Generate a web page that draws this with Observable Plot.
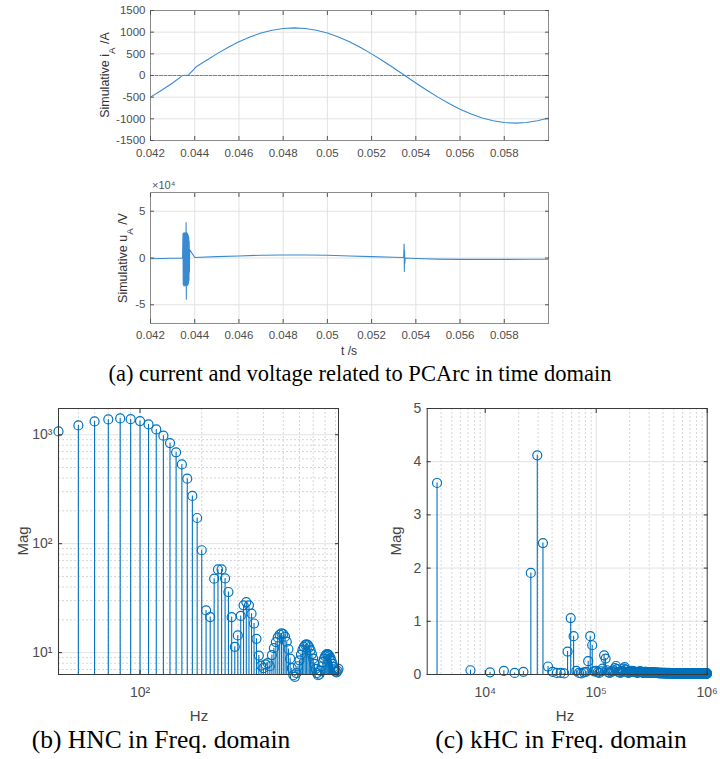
<!DOCTYPE html>
<html><head><meta charset="utf-8">
<script src="https://cdn.jsdelivr.net/npm/d3@7"></script>
<script src="https://cdn.jsdelivr.net/npm/@observablehq/plot@0.6"></script>
<style>
html,body{margin:0;padding:0;background:#fff;}
#wrap{position:relative;width:720px;height:759px;overflow:hidden;background:#fff;}
.panel{position:absolute;}
.cap{position:absolute;font-family:"Liberation Serif","Times New Roman",serif;color:#000;white-space:nowrap;transform:translateX(-50%);line-height:1;}
</style></head><body><div id="wrap"></div>
<script>
// ---------- data ----------
// (a) current
const tA = [0.0420,0.0425,0.0430,0.04340,0.04345,0.04372,0.04410,0.0445,0.0450,0.0455,0.0460,0.0465,0.0470,0.0475,0.0480,0.0485,0.0490,0.0495,0.0500,0.0505,0.0510,0.0515,0.0520,0.0525,0.0530,0.0535,0.0540,0.0545,0.0550,0.0555,0.0560,0.0565,0.0570,0.0575,0.0580,0.0585,0.0590,0.0595,0.0600];
const iA = [-499,-340,-172,-20,0,12,215,340,499,647,778,890,980,1046,1086,1100,1086,1046,980,890,778,647,499,340,172,0,-172,-340,-499,-647,-778,-890,-980,-1046,-1086,-1100,-1086,-1046,-980];
const refT = [0.042, 0.060];
const refI = [0, 0];
// (a) voltage (V)
const tU = [0.0420,0.0430,0.04345,
0.04347,0.04348,0.04349,0.04350,0.04351,0.04352,0.04353,0.04354,0.04355,0.04356,0.04357,0.04358,0.04359,0.04360,0.04361,0.04362,0.04363,0.04364,0.04365,0.04366,0.04367,0.04368,0.04369,0.04370,0.04371,0.04372,0.04373,0.04374,0.04375,0.04376,0.04377,
0.0440,0.0450,0.0460,0.0470,0.0480,0.0490,0.0500,0.0510,0.0520,0.0530,0.05345,0.05347,0.05348,0.05349,0.05350,0.05352,0.0540,0.0550,0.0560,0.0570,0.0580,0.0590,0.0600];
const uA = [-800,-300,0,
26000,-28000,25000,-29000,27000,-30000,26000,-28000,27000,-29000,26000,-28000,27000,-30000,38000,-44000,26000,-29000,27000,-28000,26000,-29000,25000,-28000,24000,-27000,22000,-24000,18000,-15000,9000,
600,1500,2200,3000,3200,3200,3000,2200,1500,800,500,15000,-14500,8000,-6000,0,-500,-1200,-1500,-1500,-1500,-1400,-1300];
const timeTicks = [0.042,0.044,0.046,0.048,0.050,0.052,0.054,0.056,0.058];
const iTicks = [-1500,-1000,-500,0,500,1000,1500];
const uTicks = [-50000,0,50000];

// (b) HNC
const fB = [40,50,60,70,80,90,100,110,120,130,140,150,160,170,180,190,200,210,220,230,240,250,260,270,280,290,300,310,320,330,340,350,360,370,380,390,400,410,420,430,440,450,460,470,480,490,500,510,520,530,540,550,560,570,580,590,600,610,620,630,640,650,660,670,680,690,700,710,720,730,740,750,760,770,780,790,800,810,820,830,840,850,860,870,880,890,900,910,920,930];
const magB = [1072,1216,1324,1381,1412,1390,1333,1243,1118,979,838,689,534,395,274,172,87,24.4,21.2,47.7,58,58,48,36,21.2,11.3,14.4,21.7,27.2,29.1,27.2,22.8,18.5,13.4,9.4,7.6,7.2,7.8,8.0,7.5,9.5,11.0,12.5,13.8,14.6,15.0,14.8,14.0,12.6,10.8,8.8,7.2,6.2,6.0,6.5,7.5,8.5,9.6,10.6,11.3,11.8,11.9,11.7,11.2,10.5,9.7,8.8,7.9,7.1,6.5,6.2,6.3,6.8,7.5,8.2,8.8,9.3,9.6,9.7,9.6,9.3,8.9,8.4,7.9,7.4,7.0,6.7,6.6,6.8,7.1];
const yDomB = [6.3, 1740];
const xDomB = [40, 930];

// (c) kHC : FFT bins k = 1..271, bin width binC
const binC = 3680;
const magC = [
3.6,0.08,0.04,0.07,0.03,0.05,1.91,4.12,2.47,0.15,
0.05,0.03,0.03,0.02,0.43,1.06,0.72,0.07,0.03,0.02,
0.04,0.05,0.25,0.72,0.55,0.06,0.07,0.04,0.03,0.06,
0.11,0.36,0.30,0.08,0.04,0.03,0.05,0.06,0.08,0.12,
0.16,0.10,0.05,0.04,0.03,0.05,0.07,0.11,0.14,0.09,
0.05,0.04,0.03,0.04,0.05,0.06,0.07,0.06,0.06,0.05,
0.05,0.04,0.04,0.03,0.04,0.05,0.06,0.06,0.05,0.04,
0.04,0.03,0.03,0.04,0.05,0.05,0.04,0.04,0.03,0.03,
0.03,0.04,0.04,0.04,0.03,0.03,0.03,0.04,0.04,0.03,
0.03,0.03,0.03,0.03,0.04,0.03,0.03,0.03,0.02,0.03,
0.03,0.03,0.02,0.02,0.03,0.03,0.03,0.02,0.02,0.02,
0.03,0.03,0.02,0.02,0.02,0.02,0.03,0.02,0.02,0.02,
0.02,0.02,0.02,0.03,0.02,0.02,0.02,0.02,0.02,0.02,
0.02,0.02,0.02,0.02,0.02,0.02,0.02,0.02,0.02,0.02,
0.02,0.02,0.02,0.02,0.02,0.02,0.02,0.02,0.02,0.02,
0.02,0.02,0.02,0.02,0.02,0.02,0.02,0.02,0.02,0.02,
0.02,0.02,0.02,0.02,0.02,0.01,0.02,0.02,0.02,0.02,
0.02,0.02,0.01,0.02,0.02,0.02,0.02,0.01,0.02,0.02,
0.02,0.01,0.02,0.02,0.02,0.01,0.02,0.02,0.01,0.02,
0.02,0.02,0.01,0.02,0.02,0.01,0.02,0.02,0.02,0.01,
0.02,0.02,0.01,0.02,0.02,0.01,0.02,0.01,0.02,0.02,
0.01,0.02,0.02,0.01,0.02,0.02,0.01,0.02,0.02,0.01,
0.02,0.02,0.01,0.02,0.01,0.02,0.02,0.01,0.02,0.02,
0.01,0.02,0.02,0.01,0.02,0.01,0.02,0.02,0.01,0.02,
0.02,0.01,0.02,0.02,0.01,0.02,0.01,0.02,0.02,0.01,
0.02,0.02,0.01,0.02,0.01,0.02,0.02,0.01,0.02,0.02,
0.01,0.02,0.02,0.01,0.02,0.01,0.02,0.02,0.01,0.02,0.02];
const xDomC = [3000, 1e6];
const yDomC = [0, 5];

// ---------- build ----------
const wrap = document.getElementById("wrap");
const blue = "#0072BD";
const lineBlue = "#3a8ad2";
const gridCol = "#e2e2e2";
const minorCol = "#d6d6d6";
const sans = "'Liberation Sans', Arial, Helvetica, sans-serif";
const sup = {10:"10\u00b9",100:"10\u00b2",1000:"10\u00b3",10000:"10\u2074",100000:"10\u2075",1000000:"10\u2076"};

function inward(xt, yt, col) {
  const o = {tickFormat: () => "", label: null, stroke: col, tickSize: -4};
  return [
    Plot.axisX({...o, ticks: xt, anchor: "bottom"}),
    Plot.axisX({...o, ticks: xt, anchor: "top"}),
    Plot.axisY({...o, ticks: yt, anchor: "left"}),
    Plot.axisY({...o, ticks: yt, anchor: "right"})
  ];
}
function place(el, left, top) {
  el.classList.add("panel");
  el.style.left = left + "px";
  el.style.top = top + "px";
  wrap.appendChild(el);
}
function label(svg, x, y, parts, {rotate = 0, size = 11, anchor = "middle", fill = "#333"} = {}) {
  const t = d3.select(svg).append("text")
    .attr("transform", `translate(${x},${y}) rotate(${rotate})`)
    .attr("text-anchor", anchor).attr("font-size", size)
    .attr("font-family", sans).attr("fill", fill);
  for (const p of parts) {
    const s = t.append("tspan").text(p.text);
    if (p.sub) s.attr("baseline-shift", "sub").attr("font-size", size * 0.78);
  }
}
const fmtT = d => String(+d.toFixed(3));
const fmtN = d => String(d);

const current = tA.map((t, j) => ({t, v: iA[j]}));
const ref = refT.map((t, j) => ({t, v: refI[j]}));
const volt = tU.map((t, j) => ({t, v: uA[j]}));
const dataB = fB.map((f, j) => ({f, v: magB[j]}));
const dataC = magC.map((v, j) => ({f: (j + 1) * binC, v}));

// panel a1
const p1 = Plot.plot({
  width: 560, height: 165,
  marginLeft: 150, marginRight: 12, marginTop: 10, marginBottom: 25,
  style: {fontFamily: sans, fontSize: "11.5px", color: "#4d4d4d", background: "transparent"},
  x: {domain: [0.042, 0.060]},
  y: {domain: [-1500, 1500]},
  marks: [
    Plot.gridX({ticks: timeTicks, stroke: gridCol, strokeOpacity: 1}),
    Plot.gridY({ticks: iTicks.filter(d => d !== 0), stroke: gridCol, strokeOpacity: 1}),
    Plot.line(ref, {x: "t", y: "v", stroke: "#f03a30", strokeOpacity: 0.9, strokeWidth: 1.2, strokeDasharray: "3,1.5"}),
    Plot.line(current, {x: "t", y: "v", stroke: lineBlue, strokeWidth: 1.1}),
    Plot.frame({stroke: "#8c8c8c"}),
    ...inward(timeTicks, iTicks, "#555"),
    Plot.axisX({ticks: timeTicks, tickSize: 0, tickPadding: 8, tickFormat: fmtT, label: null}),
    Plot.axisY({ticks: iTicks, tickSize: 0, tickPadding: 5, tickFormat: fmtN, label: null})
  ]
});
label(p1, 109, 75, [{text: "Simulative i"}, {text: "A", sub: true}, {text: " /A"}], {rotate: -90, size: 12.5});
place(p1, 0, 0);

// panel a2
const p2 = Plot.plot({
  width: 560, height: 195,
  marginLeft: 150, marginRight: 12, marginTop: 27, marginBottom: 37,
  style: {fontFamily: sans, fontSize: "11.5px", color: "#4d4d4d", background: "transparent"},
  x: {domain: [0.042, 0.060]},
  y: {domain: [-70000, 70000]},
  marks: [
    Plot.gridX({ticks: timeTicks, stroke: gridCol, strokeOpacity: 1}),
    Plot.gridY({ticks: uTicks, stroke: gridCol, strokeOpacity: 1}),
    Plot.line(volt, {x: "t", y: "v", stroke: lineBlue, strokeWidth: 1.1}),
    Plot.frame({stroke: "#8c8c8c"}),
    ...inward(timeTicks, uTicks, "#555"),
    Plot.axisX({ticks: timeTicks, tickSize: 0, tickPadding: 7, tickFormat: fmtT, label: null}),
    Plot.axisY({ticks: uTicks, tickSize: 0, tickPadding: 5, tickFormat: d => String(d / 1e4), label: null})
  ]
});
label(p2, 127, 93, [{text: "Simulative u"}, {text: "A", sub: true}, {text: " /V"}], {rotate: -90, size: 12.5});
label(p2, 152, 24, [{text: "\u00d710\u2074"}], {anchor: "start", size: 11, fill: "#555"});
label(p2, 349, 190, [{text: "t /s"}], {size: 12});
place(p2, 0, 165);

// panel b
const p3 = Plot.plot({
  width: 360, height: 335,
  marginLeft: 58, marginRight: 22, marginTop: 13, marginBottom: 56,
  style: {fontFamily: sans, fontSize: "14px", color: "#4d4d4d", background: "transparent"},
  x: {type: "log", domain: xDomB},
  y: {type: "log", domain: yDomB},
  marks: [
    Plot.gridX({ticks: [50,60,70,80,90,200,300,400,500,600,700,800,900], stroke: minorCol, strokeOpacity: 1, strokeDasharray: "2,2"}),
    Plot.gridY({ticks: [7,8,9,20,30,40,50,60,70,80,90,200,300,400,500,600,700,800,900], stroke: minorCol, strokeOpacity: 1, strokeDasharray: "2,2"}),
    Plot.gridX({ticks: [100], stroke: gridCol, strokeOpacity: 1}),
    Plot.gridY({ticks: [10,100,1000], stroke: gridCol, strokeOpacity: 1}),
    Plot.ruleX(dataB, {x: "f", y1: yDomB[0], y2: "v", stroke: blue, strokeWidth: 1.1}),
    Plot.dot(dataB, {x: "f", y: "v", r: 4.5, stroke: blue, strokeWidth: 1.2, fill: "none"}),
    Plot.frame({stroke: "#3a3a3a"}),
    ...inward([100], [10,100,1000], "#333"),
    Plot.axisX({ticks: [100], tickSize: 0, tickPadding: 13, tickFormat: d => sup[d], label: null}),
    Plot.axisY({ticks: [10,100,1000], tickSize: 0, tickPadding: 6, tickFormat: d => sup[d], label: null})
  ]
});
label(p3, 28, 146, [{text: "Mag"}], {rotate: -90, size: 15, fill: "#444"});
label(p3, 199, 326, [{text: "Hz"}], {size: 15, fill: "#444"});
place(p3, 0, 395);

// panel c
const p4 = Plot.plot({
  width: 360, height: 335,
  marginLeft: 66.7, marginRight: 13.3, marginTop: 13, marginBottom: 56,
  style: {fontFamily: sans, fontSize: "14px", color: "#4d4d4d", background: "transparent"},
  x: {type: "log", domain: xDomC},
  y: {domain: yDomC},
  marks: [
    Plot.gridX({ticks: [4000,5000,6000,7000,8000,9000,20000,30000,40000,50000,60000,70000,80000,90000,200000,300000,400000,500000,600000,700000,800000,900000], stroke: minorCol, strokeOpacity: 1, strokeDasharray: "2,2"}),
    Plot.gridX({ticks: [1e4, 1e5], stroke: gridCol, strokeOpacity: 1}),
    Plot.gridY({ticks: [1,2,3,4], stroke: gridCol, strokeOpacity: 1}),
    Plot.ruleX(dataC, {x: "f", y1: 0, y2: "v", stroke: blue, strokeWidth: 1.1}),
    Plot.dot(dataC, {x: "f", y: "v", r: 4.5, stroke: blue, strokeWidth: 1.2, fill: "none"}),
    Plot.frame({stroke: "#3a3a3a"}),
    ...inward([1e4, 1e5, 1e6], [0,1,2,3,4,5], "#333"),
    Plot.axisX({ticks: [1e4, 1e5, 1e6], tickSize: 0, tickPadding: 13, tickFormat: d => sup[d], label: null}),
    Plot.axisY({ticks: [0,1,2,3,4,5], tickSize: 0, tickPadding: 6, tickFormat: fmtN, label: null})
  ]
});
label(p4, 41, 146, [{text: "Mag"}], {rotate: -90, size: 15, fill: "#444"});
label(p4, 205, 326, [{text: "Hz"}], {size: 15, fill: "#444"});
place(p4, 360, 395);

// captions
function caption(text, cx, top, size) {
  const d = document.createElement("div");
  d.className = "cap";
  d.textContent = text;
  d.style.left = cx + "px";
  d.style.top = top + "px";
  d.style.fontSize = size + "px";
  wrap.appendChild(d);
}
caption("(a) current and voltage related to PCArc in time domain", 360, 363, 22.5);
caption("(b) HNC in Freq. domain", 161, 727, 25.5);
caption("(c) kHC in Freq. domain", 561, 727, 25.5);
</script></body></html>
